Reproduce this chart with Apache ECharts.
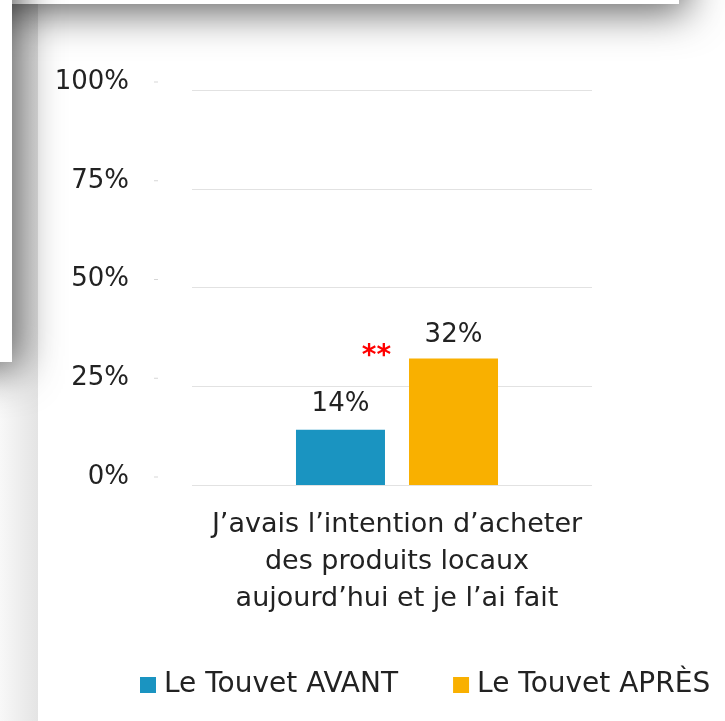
<!DOCTYPE html>
<html>
<head>
<meta charset="utf-8">
<script src="https://cdn.jsdelivr.net/npm/echarts@6/dist/echarts.min.js"></script>
<style>
  html, body { margin: 0; padding: 0; background: #ffffff; }
  #chart { width: 725px; height: 721px; }
</style>
</head>
<body>
<div id="chart"></div>
<script>
// Survey question (single category, label wrapped on three lines)
const categories = ['J’avais l’intention d’acheter\ndes produits locaux\naujourd’hui et je l’ai fait'];
const seriesNames = ['Le Touvet AVANT', 'Le Touvet APRÈS'];
const avantValues = [14];
const apresValues = [32];
const yTicks = [0, 25, 50, 75, 100];
const significance = ['**'];

const BLUE = '#1a94c1';
const ORANGE = '#f9b000';
const TEXT = '#222222';
const FONT = 'DejaVu Sans';

const chart = echarts.init(document.getElementById('chart'), null, { renderer: 'canvas' });

const valueAxisBase = {
  type: 'value',
  min: yTicks[0],
  max: yTicks[yTicks.length - 1],
  interval: yTicks[1] - yTicks[0]
};

const sheetShadow = {
  fill: '#ffffff',
  shadowBlur: 40,
  shadowColor: 'rgba(0,0,0,0.62)',
  shadowOffsetX: 8,
  shadowOffsetY: 8
};

chart.setOption({
  backgroundColor: '#ffffff',
  animation: false,
  textStyle: { fontFamily: FONT },
  graphic: [
    // light band along the left edge of the sheet
    {
      type: 'rect', z: -10, silent: true,
      shape: { x: 0, y: 0, width: 38, height: 721 },
      style: {
        fill: new echarts.graphic.LinearGradient(0, 0, 1, 0, [
          { offset: 0, color: '#f8f8f8' },
          { offset: 1, color: '#e4e4e4' }
        ])
      }
    },
    // overlapping sheet above, casting its shadow
    {
      type: 'rect', z: -5, silent: true,
      shape: { x: -100, y: -100, width: 779, height: 104 },
      style: sheetShadow
    },
    {
      type: 'rect', z: -5, silent: true,
      shape: { x: -100, y: -100, width: 112, height: 462 },
      style: sheetShadow
    }
  ],
  legend: {
    data: seriesNames,
    left: 140,
    top: 670,
    padding: 0,
    icon: 'rect',
    itemWidth: 16,
    itemHeight: 16,
    itemGap: 55,
    textStyle: { fontSize: 28, color: TEXT, fontFamily: FONT, lineHeight: 30, padding: [0, 0, 0, 3] }
  },
  grid: [
    { left: 192, right: 133, top: 90, bottom: 236 },
    { left: 197, right: 128, top: 90, bottom: 236 }
  ],
  xAxis: [
    { gridIndex: 0, type: 'category', data: categories, show: false },
    {
      gridIndex: 1, type: 'category', data: categories,
      axisLine: { show: false }, axisTick: { show: false },
      axisLabel: { fontSize: 27, lineHeight: 37, color: TEXT, margin: 21, fontFamily: FONT }
    }
  ],
  yAxis: [
    Object.assign({}, valueAxisBase, {
      gridIndex: 0,
      axisLine: { show: false },
      axisTick: { show: false },
      splitLine: { lineStyle: { color: '#e2e2e2', width: 1 } },
      axisLabel: {
        margin: 34,
        verticalAlign: 'bottom',
        lineHeight: 16,
        formatter: v => `{v|${v}%}{g| }{t| }`,
        rich: {
          v: { fontSize: 26, color: TEXT, fontFamily: FONT, lineHeight: 16 },
          g: { width: 25, lineHeight: 16 },
          t: { width: 4, height: 1, backgroundColor: '#d6d6d6', lineHeight: 16 }
        }
      }
    }),
    Object.assign({}, valueAxisBase, { gridIndex: 1, show: false })
  ],
  series: [
    {
      type: 'bar',
      name: seriesNames[0],
      xAxisIndex: 1, yAxisIndex: 1,
      data: avantValues,
      barWidth: 89,
      barGap: '27%',
      itemStyle: { color: BLUE },
      label: { show: true, position: 'top', distance: 12, formatter: '{c}%', fontSize: 26, color: TEXT, fontFamily: FONT }
    },
    {
      type: 'bar',
      name: seriesNames[1],
      xAxisIndex: 1, yAxisIndex: 1,
      data: apresValues,
      barWidth: 89,
      barGap: '27%',
      itemStyle: { color: ORANGE },
      label: { show: true, position: 'top', distance: 10, formatter: '{c}%', fontSize: 26, color: TEXT, fontFamily: FONT },
      markPoint: {
        symbol: 'rect',
        symbolSize: 1,
        itemStyle: { color: 'rgba(0,0,0,0)' },
        data: [{
          coord: [categories[0], apresValues[0]],
          label: {
            show: true, formatter: significance[0], color: '#ff0000',
            fontSize: 28, fontWeight: 'bold', fontFamily: FONT, offset: [-77, -2]
          }
        }]
      }
    }
  ]
});
</script>
</body>
</html>
